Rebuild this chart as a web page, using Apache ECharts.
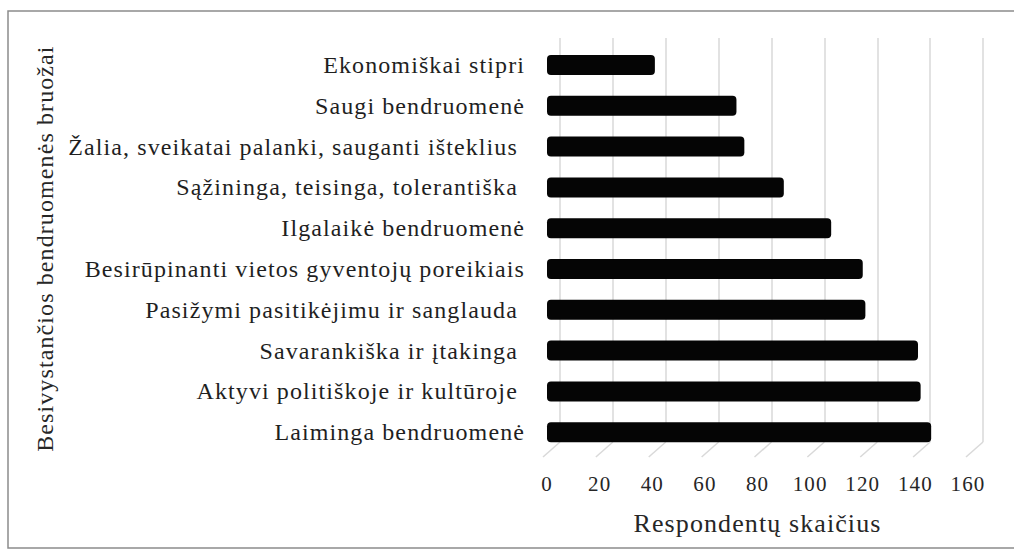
<!DOCTYPE html>
<html>
<head>
<meta charset="utf-8">
<script src="https://cdn.jsdelivr.net/npm/echarts@6/dist/echarts.min.js"></script>
<style>
  html, body { margin: 0; padding: 0; background: #fff; }
  #chart { width: 1014px; height: 555px; }
  /* originale tekstas šiek tiek praretintas */
  #chart text { letter-spacing: 1.1px; }
</style>
</head>
<body>
<div id="chart"></div>
<script>
// kategorijos nuo apačios į viršų
const categories = [
  'Laiminga bendruomenė',
  'Aktyvi politiškoje ir kultūroje ',
  'Savarankiška ir įtakinga ',
  'Pasižymi pasitikėjimu ir sanglauda ',
  'Besirūpinanti vietos gyventojų poreikiais',
  'Ilgalaikė bendruomenė',
  'Sąžininga, teisinga, tolerantiška ',
  'Žalia, sveikatai palanki, sauganti išteklius ',
  'Saugi bendruomenė',
  'Ekonomiškai stipri'
];
const respondentai = [146, 142, 141, 121, 120, 108, 90, 75, 72, 41];
const ticks = [0, 20, 40, 60, 80, 100, 120, 140, 160];

const serif = '"Liberation Serif", "Times New Roman", serif';
const myChart = echarts.init(document.getElementById('chart'), null, { renderer: 'svg' });

myChart.setOption({
  animation: false,
  backgroundColor: '#fff',
  graphic: [{
    type: 'rect',
    shape: { x: 8, y: 11, width: 1030, height: 537 },
    style: { fill: 'none', stroke: '#8c8c8c', lineWidth: 1.5 },
    silent: true
  }],
  grid: [
    // priekinė plokštuma: stulpeliai ir ašys
    { left: 547, width: 421, top: 44.6, height: 408 },
    // galinė plokštuma: tinklelio linijos
    { left: 560, width: 423, top: 38, height: 404 }
  ],
  xAxis: [{
    gridIndex: 0,
    type: 'value',
    min: 0,
    max: 160,
    interval: 20,
    axisLine: { show: false },
    axisTick: { show: false },
    splitLine: { show: false },
    axisLabel: { margin: 21, fontFamily: serif, fontSize: 21, color: '#262626' },
    name: 'Respondentų skaičius',
    nameLocation: 'middle',
    nameGap: 58,
    nameTextStyle: { fontFamily: serif, fontSize: 26, color: '#262626' }
  }, {
    gridIndex: 1,
    type: 'value',
    min: 0,
    max: 160,
    interval: 20,
    axisLine: { show: false },
    axisTick: { show: false },
    axisLabel: { show: false },
    splitLine: { show: true, lineStyle: { color: '#d9d9d9', width: 1.5 } }
  }],
  yAxis: [{
    gridIndex: 0,
    type: 'category',
    data: categories,
    axisLine: { show: false },
    axisTick: { show: false },
    axisLabel: { margin: 22, fontFamily: serif, fontSize: 24, color: '#1f1f1f' },
    name: 'Besivystančios bendruomenės bruožai',
    nameLocation: 'middle',
    nameRotate: 90,
    nameGap: 490,
    nameTextStyle: { fontFamily: serif, fontSize: 24, color: '#262626' }
  }, {
    gridIndex: 1,
    type: 'value',
    min: 0,
    max: 1,
    show: false
  }],
  series: [{
    // įstrižos pagrindo linijos
    type: 'custom',
    xAxisIndex: 1,
    yAxisIndex: 1,
    silent: true,
    data: ticks,
    renderItem: function (params, api) {
      const p = api.coord([api.value(0), 0]);
      return {
        type: 'line',
        shape: { x1: p[0], y1: p[1], x2: p[0] - 17, y2: p[1] + 15 },
        style: { stroke: '#d9d9d9', lineWidth: 1.5 }
      };
    },
    z: 1
  }, {
    type: 'bar',
    xAxisIndex: 0,
    yAxisIndex: 0,
    data: respondentai,
    barWidth: 20,
    itemStyle: { color: '#050505', borderRadius: 4 },
    z: 3
  }]
});
</script>
</body>
</html>
